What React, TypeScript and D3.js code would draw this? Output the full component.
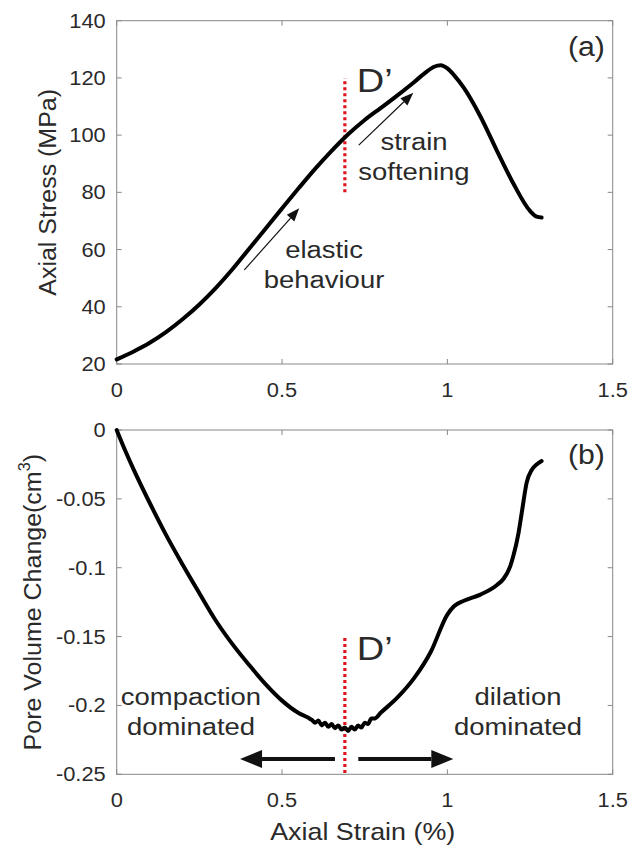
import * as d3 from 'd3';

// axial strain (%) vs axial stress (MPa), panel (a)
const stressStrain = [0, 0.05, 0.1, 0.15, 0.2, 0.25, 0.3, 0.35, 0.4, 0.45, 0.5, 0.55, 0.6, 0.65, 0.7,
  0.75, 0.8, 0.85, 0.9, 0.93, 0.96, 0.98, 1.0, 1.02, 1.05, 1.1, 1.15, 1.2, 1.25, 1.27, 1.285];
const stressValues = [21.6, 24.3, 27.4, 31.2, 35.7, 40.8, 46.6, 53.1, 60.2, 67.3, 74.4, 81.4, 88.2, 94.5, 100.3,
  105.3, 109.6, 114, 118.6, 121.5, 123.9, 124.4, 123.3, 121, 116.5, 106.5, 94.5, 83, 73.5, 71.5, 71.2];

// axial strain (%) vs pore volume change (cm3), panel (b)
const poreStrain = [0, 0.025, 0.05, 0.1, 0.15, 0.2, 0.25, 0.3, 0.35, 0.4, 0.45, 0.5, 0.55, 0.58,
  0.59, 0.6, 0.61, 0.62, 0.63, 0.64, 0.65, 0.66, 0.67, 0.68, 0.69, 0.7, 0.71, 0.72, 0.73, 0.74, 0.75, 0.76, 0.77, 0.78,
  0.8, 0.85, 0.9, 0.95, 1.0, 1.02, 1.05, 1.1, 1.15, 1.17, 1.19, 1.2, 1.215, 1.225, 1.24, 1.255, 1.27, 1.285];
const poreValues = [0, -0.0145, -0.028, -0.053, -0.0765, -0.098, -0.1185, -0.1385, -0.1555, -0.1705, -0.1845, -0.1965, -0.2055, -0.209,
  -0.2105, -0.2125, -0.211, -0.2145, -0.2125, -0.2155, -0.2135, -0.2165, -0.2145, -0.2175, -0.216, -0.2185, -0.2155, -0.2175, -0.2145, -0.216, -0.2125, -0.2135, -0.2095, -0.2095,
  -0.205, -0.194, -0.18, -0.161, -0.134, -0.128, -0.124, -0.1195, -0.1125, -0.108, -0.099, -0.091, -0.075, -0.06, -0.038, -0.029, -0.025, -0.0225];

const xTicks = [0, 0.5, 1, 1.5];
const xTickLabels = ['0', '0.5', '1', '1.5'];
const stressTicks = [20, 40, 60, 80, 100, 120, 140];
const poreTicks = [0, -0.05, -0.1, -0.15, -0.2, -0.25];
const poreTickLabels = ['0', '-0.05', '-0.1', '-0.15', '-0.2', '-0.25'];

const dPrime = 0.69;

const W = 630;
const H = 846;
const left = 116.7;
const right = 612.7;
const topA = 20.7, bottomA = 364;
const topB = 430, bottomB = 774.3;

const FONT = 'Liberation Sans, Arial, Helvetica, sans-serif';
const SX = 1.12; // the source text is a little wider than Arial
const AXIS = '#888';
const TEXT = '#2a2a2a';
const RED = '#e0141e';

function T({ x, y, size, anchor = 'middle', children, fill = TEXT, rotate = 0, sx = SX }: any) {
  return (
    <text
      transform={`translate(${x},${y}) rotate(${rotate}) scale(${sx},1)`}
      fontSize={size}
      fontFamily={FONT}
      textAnchor={anchor}
      fill={fill}
    >
      {children}
    </text>
  );
}

function Arrow({ x1, y1, x2, y2, width, headLen, headW }: any) {
  const a = Math.atan2(y2 - y1, x2 - x1);
  const bx = x2 - headLen * Math.cos(a);
  const by = y2 - headLen * Math.sin(a);
  const px = Math.sin(a) * headW / 2;
  const py = -Math.cos(a) * headW / 2;
  return (
    <g>
      <line x1={x1} y1={y1} x2={bx} y2={by} stroke="#111" strokeWidth={width} />
      <path d={`M${x2},${y2}L${bx + px},${by + py}L${bx - px},${by - py}Z`} fill="#111" />
    </g>
  );
}

function Frame({ y, top, bottom, ticks, labels }: any) {
  const x = d3.scaleLinear().domain([0, 1.5]).range([left, right]);
  const tl = 5;
  return (
    <g>
      <rect x={left} y={top} width={right - left} height={bottom - top} fill="none" stroke={AXIS} strokeWidth={1} />
      {xTicks.map((t, i) => (
        <g key={'x' + i}>
          <line x1={x(t)} x2={x(t)} y1={bottom} y2={bottom - tl} stroke={AXIS} />
          <line x1={x(t)} x2={x(t)} y1={top} y2={top + tl} stroke={AXIS} />
          <T x={x(t)} y={bottom + 33} size={19.5}>{xTickLabels[i]}</T>
        </g>
      ))}
      {ticks.map((t: number, i: number) => (
        <g key={'y' + i}>
          <line x1={left} x2={left + tl} y1={y(t)} y2={y(t)} stroke={AXIS} />
          <line x1={right} x2={right - tl} y1={y(t)} y2={y(t)} stroke={AXIS} />
          <T x={left - 11} y={y(t) + 7} size={19.5} anchor="end">{labels[i]}</T>
        </g>
      ))}
    </g>
  );
}

export default function App() {
  const x = d3.scaleLinear().domain([0, 1.5]).range([left, right]);
  const yA = d3.scaleLinear().domain([20, 140]).range([bottomA, topA]);
  const yB = d3.scaleLinear().domain([-0.25, 0]).range([bottomB, topB]);

  const lineA = d3.line<number>()
    .x((_, i) => x(stressStrain[i]))
    .y(d => yA(d))
    .curve(d3.curveMonotoneX);
  const lineB = d3.line<number>()
    .x((_, i) => x(poreStrain[i]))
    .y(d => yB(d))
    .curve(d3.curveMonotoneX);

  return (
    <svg width={W} height={H} style={{ position: 'absolute', left: 0, top: 0, background: '#fff' }}>
      {/* panel (a) */}
      <Frame y={yA} top={topA} bottom={bottomA} ticks={stressTicks} labels={stressTicks.map(String)} />
      <line x1={x(dPrime)} x2={x(dPrime)} y1={yA(80)} y2={yA(120)} stroke={RED} strokeWidth={3.2} strokeDasharray="3,3" />
      <path d={lineA(stressValues) || ''} fill="none" stroke="#000" strokeWidth={4} strokeLinejoin="round" strokeLinecap="round" />
      <Arrow x1={x(0.386)} y1={yA(52.9)} x2={x(0.552)} y2={yA(74.4)} width={1.2} headLen={13} headW={10} />
      <Arrow x1={x(0.732)} y1={yA(96.5)} x2={x(0.897)} y2={yA(114.8)} width={1.2} headLen={13} headW={10} />
      <T x={x(0.627)} y={yA(57)} size={24.5}>elastic</T>
      <T x={x(0.627)} y={yA(46.6)} size={24.5}>behaviour</T>
      <T x={x(0.899)} y={yA(94.8)} size={24.5}>strain</T>
      <T x={x(0.899)} y={yA(84.3)} size={24.5}>softening</T>
      <T x={x(0.7257)} y={yA(115.1)} size={34} anchor="start">D’</T>
      <T x={x(1.4765)} y={yA(127.7)} size={27} anchor="end">(a)</T>
      <T x={48} y={(topA + bottomA) / 2} size={24.5} rotate={-90} sx={1.02}>
        <tspan dy="8">Axial Stress (MPa)</tspan>
      </T>

      {/* panel (b) */}
      <Frame y={yB} top={topB} bottom={bottomB} ticks={poreTicks} labels={poreTickLabels} />
      <line x1={x(dPrime)} x2={x(dPrime)} y1={yB(-0.151)} y2={bottomB} stroke={RED} strokeWidth={3.2} strokeDasharray="3,3" />
      <path d={lineB(poreValues) || ''} fill="none" stroke="#000" strokeWidth={4} strokeLinejoin="round" strokeLinecap="round" />
      <Arrow x1={x(0.66)} y1={yB(-0.2389)} x2={x(0.373)} y2={yB(-0.2389)} width={4.2} headLen={22} headW={18} />
      <Arrow x1={x(0.7306)} y1={yB(-0.2389)} x2={x(1.018)} y2={yB(-0.2389)} width={4.2} headLen={22} headW={18} />
      <T x={x(0.2247)} y={yB(-0.1997)} size={24.5}>compaction</T>
      <T x={x(0.2247)} y={yB(-0.2215)} size={24.5}>dominated</T>
      <T x={x(1.2135)} y={yB(-0.1997)} size={24.5}>dilation</T>
      <T x={x(1.2135)} y={yB(-0.2215)} size={24.5}>dominated</T>
      <T x={x(0.7257)} y={yB(-0.167)} size={34} anchor="start">D’</T>
      <T x={x(1.4765)} y={yB(-0.0247)} size={27} anchor="end">(b)</T>
      <T x={33} y={(topB + bottomB) / 2} size={24.5} rotate={-90} sx={1.02}>
        <tspan dy="8">Pore Volume Change(cm</tspan>
        <tspan fontSize={16} dy="-11">3</tspan>
        <tspan dy="11">)</tspan>
      </T>
      <T x={(left + right) / 2 - 2} y={840} size={24}>Axial Strain (%)</T>
    </svg>
  );
}
